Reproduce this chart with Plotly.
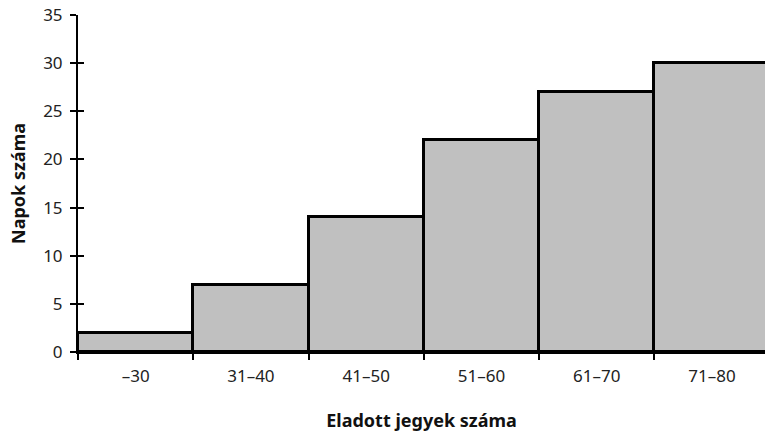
import plotly.graph_objects as go

# Ticket sales per day, grouped into ranges
categories = ["–30", "31–40", "41–50", "51–60", "61–70", "71–80"]
days = [2, 7, 14, 22, 27, 30]
y_ticks = [0, 5, 10, 15, 20, 25, 30, 35]

font_family = "Noto Sans, Open Sans, sans-serif"
tick_font = dict(family=font_family, size=17, color="#222")
title_font = dict(family=font_family, size=18, color="#111")

fig = go.Figure()
fig.add_trace(go.Bar(
    x=categories,
    y=days,
    marker=dict(color="#c0c0c0", line=dict(color="black", width=3)),
    showlegend=False,
))
# invisible trace on a twin axis so y ticks cross the axis line
fig.add_trace(go.Scatter(x=categories[:1], y=[0], yaxis="y2", mode="markers",
                         marker=dict(opacity=0), showlegend=False, hoverinfo="skip"))

fig.update_layout(
    width=765, height=437,
    margin=dict(l=78, r=0, t=15, b=85),
    plot_bgcolor="white", paper_bgcolor="white",
    bargap=0,
    font=dict(family=font_family, size=15, color="#222"),
    xaxis=dict(
        type="category",
        range=[-0.5, 5.46],
        showline=True, linecolor="black", linewidth=2,
        ticks="outside", tickson="boundaries", ticklen=6, tickwidth=1.5, tickcolor="black",
        tickfont=tick_font, ticklabelstandoff=8,
        showgrid=False, zeroline=False,
        title=dict(text="<b>Eladott jegyek száma</b>", font=title_font, standoff=28),
    ),
    yaxis=dict(
        range=[0, 35],
        tickvals=y_ticks,
        showline=True, linecolor="black", linewidth=2,
        ticks="outside", ticklen=6, tickwidth=1.5, tickcolor="black",
        tickfont=tick_font, ticklabelstandoff=4,
        showgrid=False, zeroline=False,
        title=dict(text="<b>Napok száma</b>", font=title_font, standoff=13),
    ),
    yaxis2=dict(
        range=[0, 35], overlaying="y", side="left",
        tickvals=y_ticks, showticklabels=False,
        ticks="inside", ticklen=6, tickwidth=1.5, tickcolor="black",
        showgrid=False, zeroline=False, showline=False,
    ),
)

fig.write_html("out.html")
